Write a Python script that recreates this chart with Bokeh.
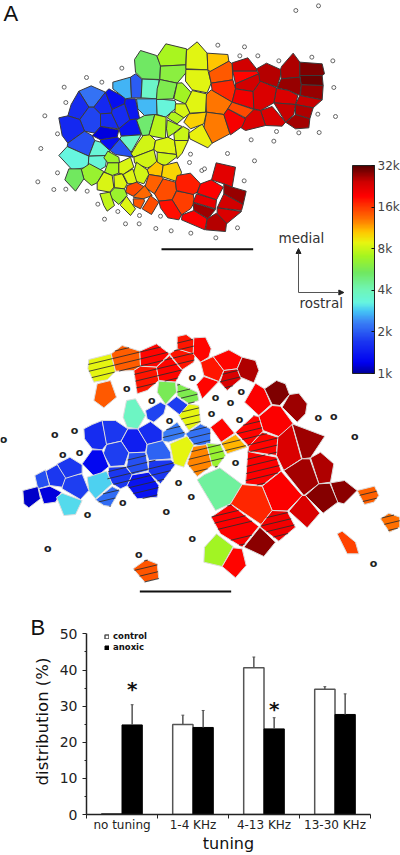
from bokeh.plotting import figure
from bokeh.layouts import column, row
from bokeh.embed import file_html
from bokeh.resources import INLINE
from bokeh.core.properties import value
from bokeh.models import (LogColorMapper, ColorBar, FixedTicker, ColumnDataSource, Arrow, NormalHead,
                          Range1d, Legend, LegendItem)

# ---------- data: upper map (cell tuning in kHz, outline) ----------
upper_a = [(2.2,[(85,152),(122,136),(165,155),(130,200),(115,200)]),
 (1.6,[(85,152),(115,200),(88,237),(52,226),(62,192)]),
 (1.8,[(115,200),(130,200),(150,220),(150,258),(133,278),(102,272),(88,237)]),
 (1.55,[(25,232),(52,226),(88,237),(102,272),(52,308),(35,285)]),
 (1.9,[(52,308),(102,272),(125,285),(133,300),(115,347),(50,318)]),
 (1.55,[(165,155),(185,207),(183,218),(150,220),(130,200)]),
 (1.3,[(175,145),(225,172),(222,190),(185,207),(165,155)]),
 (1.4,[(225,175),(255,175),(268,238),(238,238),(222,190)]),
 (1.6,[(185,207),(222,190),(238,238),(205,265),(183,218)]),
 (1.6,[(150,220),(183,218),(205,265),(150,258)]),
 (1.35,[(238,238),(258,235),(272,283),(212,287),(205,265)]),
 (1.15,[(150,258),(205,268),(200,290),(150,298),(125,285),(133,278)]),
 (1.3,[(150,298),(200,290),(208,295),(178,330),(150,305)]),
 (1.9,[(208,295),(242,335),(248,350),(195,342),(178,330)]),
 (3.7,[(212,287),(272,283),(242,335),(208,295)]),
 (3.4,[(133,300),(150,305),(178,330),(170,345),(115,347)]),
 (3.25,[(25,345),(50,318),(115,347),(113,380),(65,388)]),
 (3.4,[(115,347),(170,345),(165,378),(145,390),(113,380)]),
 (2.7,[(187,125),(240,110),(243,172),(225,175),(187,145)]),
 (2.0,[(240,110),(255,100),(275,117),(272,172),(243,172)]),
 (3.7,[(275,115),(326,118),(318,175),(272,172)]),
 (2.75,[(258,175),(318,175),(320,222),(282,225),(262,205)]),
 (3.35,[(318,175),(373,180),(380,200),(345,230),(320,222)]),
 (5.1,[(282,225),(313,222),(295,285),(275,285),(258,238)]),
 (5.3,[(252,57),(270,30),(318,45),(330,72),(328,117),(275,115),(255,95)]),
 (7.6,[(313,222),(347,230),(345,295),(295,285)])]
upper_b = [(7.2,[(470,168),(496,130),(558,145),(556,193),(480,197)]),
 (6.2,[(480,197),(556,193),(558,215),(530,248),(478,237)]),
 (5.8,[(478,237),(530,248),(518,295),(468,297),(470,265)]),
 (7.0,[(530,248),(545,247),(573,277),(555,310),(520,295)]),
 (7.4,[(512,335),(526,335),(552,350),(530,370),(500,352)]),
 (7.4,[(500,358),(530,372),(545,378),(520,398),(502,410),(498,385)]),
 (8.0,[(548,378),(566,388),(563,420),(522,420),(520,400)]),
 (8.2,[(428,405),(448,403),(465,420),(460,447),(400,470),(392,460),(410,430)]),
 (8.5,[(465,420),(502,410),(522,420),(528,462),(470,455),(460,447)]),
 (8.7,[(522,420),(563,420),(545,458),(530,475),(528,462)]),
 (8.2,[(400,470),(460,447),(470,488),(440,503),(402,487)]),
 (8.1,[(470,455),(528,462),(528,470),(495,495),(470,488)])]
upper_c = [(8.7,[(48,30),(80,4),(110,38),(112,88),(46,85)]),
 (8.7,[(46,87),(112,88),(122,128),(110,157),(65,148),(45,122)]),
 (10.6,[(110,38),(172,42),(175,62),(122,95),(112,88)]),
 (14.3,[(175,62),(185,70),(187,118),(122,128),(115,95)]),
 (17,[(122,128),(187,118),(195,145),(185,185),(125,150)]),
 (24,[(185,67),(232,52),(258,85),(258,92),(187,92)]),
 (19,[(187,92),(258,92),(265,100),(195,130)]),
 (24,[(195,145),(195,130),(265,100),(270,122),(248,153)]),
 (20.5,[(195,145),(248,153),(250,205),(185,185)]),
 (13,[(122,148),(185,185),(172,205),(160,222),(108,215),(105,165)]),
 (12.8,[(108,215),(160,222),(178,280),(125,308),(100,262)]),
 (9,[(55,278),(95,250),(125,308),(112,322),(58,295)]),
 (10.2,[(55,220),(108,215),(100,250),(60,265),(40,245)]),
 (8.7,[(65,150),(108,160),(105,215),(58,218),(45,190)]),
 (8.4,[(15,190),(45,190),(58,218),(40,232),(13,215)]),
 (25.5,[(258,85),(288,68),(330,87),(330,105),(320,140),(268,122),(265,100)]),
 (26,[(333,78),(368,38),(388,65),(388,110),(332,115),(330,87)]),
 (29,[(388,65),(455,70),(462,100),(455,105),(388,105)]),
 (30,[(388,105),(455,105),(458,135),(392,133)]),
 (27.5,[(392,133),(458,135),(455,178),(390,165)]),
 (27.5,[(320,142),(332,115),(388,110),(392,133),(388,165),(355,150)]),
 (23,[(318,143),(355,150),(382,165),(375,192),(310,187)]),
 (23,[(248,153),(270,122),(318,142),(310,187),(270,210),(250,205)]),
 (24.5,[(388,165),(455,178),(428,202),(375,192)]),
 (23,[(270,210),(305,198),(345,245),(335,257),(285,255)]),
 (24.5,[(310,187),(375,192),(370,222),(345,245)]),
 (26,[(375,192),(428,202),(418,235),(375,222)]),
 (26.5,[(375,222),(418,235),(415,262),(375,265),(345,245)]),
 (23,[(222,230),(250,207),(270,210),(285,255),(225,270),(212,262)]),
 (20,[(172,205),(225,235),(215,258),(180,283),(160,222)]),
 (15,[(185,185),(250,207),(225,232),(172,205)])]
upper_d = [(10.6,[(290,118),(318,93),(338,105),(333,138),(295,132)]),
 (10,[(338,105),(380,95),(393,125),(385,155),(333,138)]),
 (14,[(295,132),(333,138),(338,145),(312,190),(283,170)]),
 (14.8,[(338,145),(375,155),(378,180),(365,208),(325,212),(312,190)]),
 (8.2,[(258,95),(290,118),(295,132),(280,160),(255,152),(248,130)]),
 (6.6,[(92,117),(117,100),(160,123),(140,157),(123,165),(100,145)]),
 (5.4,[(55,115),(92,115),(100,145),(75,182),(43,148)]),
 (6.8,[(172,62),(205,80),(207,97),(172,97),(160,82)]),
 (7.2,[(172,97),(205,97),(205,128),(185,135),(162,125)]),
 (8.4,[(205,97),(240,80),(250,110),(218,132),(205,128)]),
 (8.4,[(160,125),(185,135),(190,170),(178,185),(140,178),(140,157)]),
 (8.6,[(190,135),(215,130),(230,160),(222,175),(192,172)]),
 (8.6,[(218,132),(247,115),(260,158),(232,160)]),
 (15,[(230,165),(258,155),(283,170),(248,197),(225,185)]),
 (13.5,[(283,165),(305,195),(278,205),(248,200)]),
 (14.5,[(248,205),(280,205),(282,212),(270,235),(250,225)]),
 (14.8,[(300,195),(325,215),(303,252),(275,235)]),
 (6.7,[(180,185),(192,172),(222,175),(230,195),(205,222),(180,200)]),
 (7.8,[(148,190),(178,185),(192,225),(170,242),(160,225)]),
 (8.5,[(210,222),(228,197),(255,235),(240,255),(210,225)]),
 (15.8,[(378,182),(428,190),(432,215),(420,235),(393,253),(365,208)]),
 (18.5,[(325,212),(365,208),(393,253),(385,268),(352,262),(330,232)]),
 (17.5,[(380,135),(420,128),(450,160),(440,185),(428,192),(378,180),(375,155)]),
 (19.5,[(450,160),(482,148),(518,170),(498,208),(440,188)]),
 (21.5,[(438,190),(498,208),(495,235),(428,215)]),
 (22,[(497,97),(555,110),(545,170),(520,160),(483,148)]),
 (27.5,[(520,160),(545,170),(587,182),(578,222),(520,190)]),
 (24,[(520,190),(578,222),(573,240),(500,232)]),
 (27,[(428,217),(495,237),(472,265),(430,240)]),
 (23,[(500,232),(573,243),(528,280),(500,250)]),
 (19.5,[(395,253),(430,240),(470,265),(463,298),(393,268)]),
 (25.5,[(470,265),(498,248),(528,278),(525,303),(465,298)])]
upper_silent = [(954,16),(886,30),(652,134),(732,139),(718,166),(772,166),(835,181),(934,170),(997,181),
 (364,203),(258,231),(304,245),(191,260),(196,306),(133,346),(171,400),(121,444),(1000,261),(952,341),
 (1005,348),(956,396),(895,397),(828,393),(752,418),(820,422),(570,461),(681,459),(762,481),(567,486),
 (604,510),(612,505),(171,517),(112,544),(160,567),(196,566),(260,572),(731,541),(292,611),(352,633),
 (417,645),(312,656),(480,647),(375,670),(416,670),(466,684),(512,691),(571,698),(711,682),(646,712)]

# ---------- data: lower map (kHz, hatched, outline) ----------
lower_a = [(8.8,1,[(265,117),(332,100),(345,152),(320,178),(280,185),(262,145)]),
 (14.2,1,[(332,100),(365,75),(418,92),(420,137),(400,150),(345,152)]),
 (19,1,[(418,92),(468,70),(507,100),(468,140),(420,137)]),
 (18,1,[(400,150),(420,137),(468,140),(475,180),(440,210),(410,220)]),
 (19,1,[(468,140),(507,105),(545,150),(525,185),(475,180)]),
 (18,1,[(507,100),(530,85),(585,100),(580,125),(545,148)]),
 (18,1,[(530,48),(557,42),(582,60),(578,100),(530,85)]),
 (5.6,0,[(475,182),(525,185),(528,215),(495,252),(470,215)]),
 (5.8,1,[(530,188),(590,215),(595,240),(565,250),(530,225)]),
 (1.75,0,[(498,252),(528,228),(565,255),(540,285)]),
 (1.8,0,[(435,270),(480,245),(497,255),(490,280),(460,305),(440,295)]),
 (8.8,1,[(535,285),(565,250),(595,255),(600,305),(565,330)]),
 (3.8,0,[(378,240),(405,235),(435,285),(412,325),(380,320),(368,290)]),
 (14.3,0,[(290,190),(330,180),(348,230),(310,262),(280,240)]),
 (1.6,0,[(250,325),(275,312),(305,300),(320,370),(305,388),(275,385),(252,355)]),
 (1.7,0,[(305,300),(345,300),(382,325),(362,362),(318,372)]),
 (1.45,0,[(382,325),(412,325),(440,370),(435,395),(385,397),(362,362)]),
 (1.6,0,[(412,325),(450,303),(485,330),(485,362),(440,372)]),
 (1.75,0,[(318,372),(362,362),(385,397),(372,435),(330,438),(308,400)]),
 (1.25,0,[(275,388),(305,388),(325,438),(285,472),(245,430)]),
 (1.9,1,[(385,397),(435,395),(445,450),(395,463),(378,440)]),
 (2.05,0,[(440,372),(487,360),(510,395),(512,415),(445,420),(437,395)]),
 (2.3,1,[(487,335),(530,305),(555,340),(550,350),(505,365),(487,362)]),
 (2.2,1,[(555,340),(600,310),(630,325),(630,370),(605,378),(580,372)]),
 (1.7,1,[(325,440),(375,438),(395,463),(382,495),(360,505),(320,480)]),
 (1.7,1,[(445,420),(512,418),(525,432),(480,490),(443,455)]),
 (1.35,1,[(395,463),(445,455),(475,495),(470,530),(410,535),(380,495)]),
 (2.95,0,[(260,470),(318,452),(335,490),(285,535),(265,510)]),
 (2.15,1,[(335,498),(358,510),(330,558),(310,555),(285,538)]),
 (1.75,0,[(185,470),(245,460),(265,510),(240,537),(185,505)]),
 (1.7,0,[(170,430),(208,410),(245,433),(245,458),(190,475)]),
 (1.7,0,[(135,452),(170,432),(195,472),(185,500),(148,495)]),
 (1.9,0,[(103,465),(135,448),(147,495),(112,505)]),
 (1.15,0,[(115,505),(148,497),(183,515),(165,545),(130,550)]),
 (1.1,0,[(67,510),(112,498),(120,535),(85,562),(70,550)]),
 (3.0,0,[(168,530),(185,518),(245,540),(225,582),(190,585)]),
 (8.8,0,[(508,370),(560,347),(580,375),(565,405),(550,440),(520,430)]),
 (12.5,1,[(560,430),(578,378),(618,372),(635,435),(590,468)]),
 (14.5,1,[(398,745),(437,717),(470,730),(475,775),(433,785)])]
lower_b = [(19,0,[(10,52),(45,50),(62,85),(55,110),(30,125),(8,100)]),
 (6.6,1,[(48,368),(90,372),(105,405),(78,442),(65,435)]),
 (19,0,[(60,320),(95,293),(132,338),(92,365)]),
 (11,1,[(92,367),(135,342),(170,380),(110,400)]),
 (19,0,[(18,192),(40,168),(85,183),(35,235)]),
 (18,0,[(30,125),(68,108),(100,150),(85,183),(40,165)]),
 (19,0,[(68,108),(115,88),(155,110),(140,145),(100,150)]),
 (23,1,[(100,150),(140,145),(152,175),(110,210),(88,185)]),
 (26,0,[(155,110),(195,120),(205,150),(190,187),(150,170),(140,145)]),
 (19.5,0,[(195,188),(222,205),(242,252),(205,285),(162,245)]),
 (29,0,[(222,205),(258,180),(285,190),(297,222),(268,255),(245,252)]),
 (27,0,[(297,222),(325,218),(350,250),(345,280),(320,305),(275,260)]),
 (19.5,0,[(205,288),(245,255),(270,257),(310,312),(265,348),(218,330)]),
 (19,1,[(135,335),(190,285),(205,288),(218,332),(175,378)]),
 (19,1,[(175,378),(215,335),(262,350),(258,405),(172,392)]),
 (23,0,[(262,350),(305,312),(333,415),(280,450),(258,405)]),
 (27,0,[(305,310),(403,347),(360,412),(335,415)]),
 (26,0,[(360,412),(390,395),(430,430),(420,485),(385,490)]),
 (26.5,0,[(280,450),(335,415),(358,415),(385,490),(340,525)]),
 (19.5,1,[(172,393),(258,410),(272,450),(215,495),(165,490)]),
 (4.4,0,[(20,478),(42,462),(88,442),(155,492),(120,550),(75,570)]),
 (28,0,[(420,487),(462,480),(500,510),(460,550),(440,545)]),
 (28.5,0,[(345,525),(385,490),(418,488),(442,545),(398,578)]),
 (23,0,[(295,572),(335,525),(345,525),(388,578),(350,622)]),
 (19.5,0,[(215,497),(272,452),(335,525),(290,572),(245,570)]),
 (17,0,[(120,550),(155,492),(215,497),(245,570),(212,612)]),
 (20.5,1,[(212,612),(245,570),(290,572),(315,620),(265,662),(210,620)]),
 (19.5,1,[(62,590),(120,550),(205,618),(155,680),(90,640)]),
 (28,0,[(160,680),(208,620),(255,665),(220,708)]),
 (7,0,[(78,640),(128,678),(95,738),(40,725),(42,680)]),
 (19,0,[(128,682),(155,685),(167,735),(135,772),(95,738)]),
 (14,1,[(500,510),(552,497),(565,525),(550,545),(522,552)]),
 (13.2,1,[(570,595),(595,578),(628,590),(628,620),(597,635)]),
 (15.5,0,[(440,640),(455,632),(495,665),(505,700),(470,700)])]
lower_silent_a = [(9,357),(163,342),(222,330),(187,401),(237,395),(379,203),(454,241),(507,300),(575,170),
 (534,487),(572,528),(497,572),(575,655),(415,703),(142,685),(367,546),(261,581)]
lower_silent_b = [(75,232),(120,247),(152,214),(63,279),(147,297),(135,425),(383,291),(430,288),(493,347),(549,730)]

freq_ticks = [1, 2, 4, 8, 16, 32]
freq_labels = ["1k", "2k", "4k", "8k", "16k", "32k"]

# ---------- data: bar chart ----------
tunings = ["no tuning", "1-4 KHz", "4-13 KHz", "13-30 KHz"]
control_mean = [0.2, 24.9, 40.6, 34.65]
control_top = [0.2, 27.5, 43.6, 35.4]
anoxic_mean = [24.8, 24.1, 23.7, 27.7]
anoxic_top = [30.4, 28.8, 26.8, 33.4]
star_tuning = [0, 2]
star_level = [34.8, 29.3]

# ---------- colour scale sampled from the colour bar ----------
anchors = [(0,"#00009a"),(.05,"#0000f0"),(.15,"#1a35f0"),(.245,"#3a80f5"),(.30,"#45c5f5"),(.34,"#66f5e0"),
 (.405,"#70f5b5"),(.485,"#70e860"),(.565,"#a5f520"),(.63,"#e8f510"),(.68,"#ffc800"),(.745,"#ff7000"),
 (.81,"#ff3000"),(.855,"#ff0000"),(.92,"#d00000"),(1,"#550000")]
def _c(h): return [int(h[i:i+2],16) for i in (1,3,5)]
palette=[]
for i in range(256):
    t=i/255
    for (a,ca),(b,cb) in zip(anchors,anchors[1:]):
        if a<=t<=b:
            f=(t-a)/(b-a); A,B=_c(ca),_c(cb)
            palette.append("#%02x%02x%02x"%tuple(round(A[k]+(B[k]-A[k])*f) for k in range(3)))
            break
mapper = LogColorMapper(palette=palette, low=1, high=32)

def shift(cells, dx, dy):
    return [(*c[:-1], [(x+dx,y+dy) for x,y in c[-1]]) for c in cells]

upper = shift(upper_a,150,120)+upper_b+shift(upper_c,510,120)+shift(upper_d,150,390)
lower = shift(lower_a,0,960)+shift(lower_b,570,960)

MAP_H=640
m = figure(width=400, height=MAP_H, x_range=Range1d(0,1200), y_range=Range1d(MAP_H*3,0),
           toolbar_location=None, output_backend="svg", min_border=0, outline_line_color=None, margin=0)
m.axis.visible=False; m.grid.visible=False

su = ColumnDataSource(dict(xs=[[q[0] for q in c[1]] for c in upper], ys=[[q[1] for q in c[1]] for c in upper], v=[c[0] for c in upper]))
m.patches("xs","ys",source=su,fill_color={"field":"v","transform":mapper},line_color="#3a3a3a",line_width=1)
sl = ColumnDataSource(dict(xs=[[q[0] for q in c[2]] for c in lower], ys=[[q[1] for q in c[2]] for c in lower], v=[c[0] for c in lower]))
m.patches("xs","ys",source=sl,fill_color={"field":"v","transform":mapper},line_color="#dddddd",line_width=1)

# hatching: tilted rules clipped to each hatched cell
SLOPE=-0.24; STEP=21
hx0,hy0,hx1,hy1=[],[],[],[]
for c in lower:
    if not c[1]: continue
    P=c[2]
    vals=[y-SLOPE*x for x,y in P]
    k=int(min(vals)//STEP)+1
    while k*STEP<max(vals):
        ci=k*STEP; hits=[]
        for (x0,y0),(x1,y1),v0,v1 in zip(P,P[1:]+P[:1],vals,vals[1:]+vals[:1]):
            if (v0-ci)*(v1-ci)<0:
                f=(ci-v0)/(v1-v0); hits.append((x0+(x1-x0)*f,y0+(y1-y0)*f))
        if len(hits)>=2:
            hits.sort()
            hx0.append(hits[0][0]);hy0.append(hits[0][1]);hx1.append(hits[-1][0]);hy1.append(hits[-1][1])
        k+=1
m.segment(hx0,hy0,hx1,hy1,line_color="#2b2b2b",line_width=1,line_alpha=.85)

# silent sites
m.scatter([p[0] for p in upper_silent],[p[1] for p in upper_silent],marker="circle",size=4,
          fill_color="white",line_color="#666666",line_width=1)
sil=[(x,y+960) for x,y in lower_silent_a]+[(x+570,y+960) for x,y in lower_silent_b]
m.text([p[0] for p in sil],[p[1] for p in sil],text=["o"]*len(sil),text_font=value("DejaVu Sans"),
       text_font_size="11px",text_align="center",text_baseline="middle",text_color="#222222",text_font_style="bold")

# scale bars
m.segment([483,418],[746,1773],[758,692],[746,1773],line_color="#111111",line_width=2)

# orientation arrows
for xa,ya,xb,yb in [(894,876,894,744),(894,876,1030,876)]:
    m.add_layout(Arrow(end=NormalHead(size=5,fill_color="#222222",line_color="#222222"),x_start=xa,y_start=ya,x_end=xb,y_end=yb,
                       line_color="#555555",line_width=1))
m.text([834],[712],text=["medial"],text_font=value("DejaVu Sans"),text_font_size="13.5px",text_color="#333333",text_baseline="middle")
m.text([897],[907],text=["rostral"],text_font=value("DejaVu Sans"),text_font_size="13.5px",text_color="#333333",text_baseline="middle")
m.text([9],[40],text=["A"],text_font=value("Liberation Sans"),text_font_size="22px",text_color="#111111",text_baseline="middle")
m.text([90],[1882],text=["B"],text_font=value("Liberation Sans"),text_font_size="22px",text_color="#111111",text_baseline="middle")

cb = ColorBar(color_mapper=mapper, location=(352,MAP_H-373), width=22, height=208, padding=0, margin=0,
              ticker=FixedTicker(ticks=freq_ticks), major_label_overrides=dict(zip(freq_ticks,freq_labels)),
              major_label_text_font="DejaVu Sans", major_label_text_font_size="12px", major_label_text_color="#444444",
              major_tick_in=3, major_tick_line_color="#111111", minor_tick_line_color=None,
              bar_line_color="#222222", border_line_color=None, background_fill_color=None, label_standoff=3)
m.add_layout(cb,"center")

# ---------- bars ----------
b = figure(width=400, height=255, x_range=Range1d(0,4), y_range=Range1d(0,51.5), toolbar_location=None,
           output_backend="svg", min_border_left=86, min_border_right=30, min_border_top=28, min_border_bottom=41,
           outline_line_color=None, margin=0, border_fill_color=None, background_fill_color=None)
b.grid.visible=False
xs=[i+.5 for i in range(4)]; W=.286
bx_c=[x-W/2 for x in xs]; bx_a=[x+W/2 for x in xs]
r_c=b.vbar(bx_c,top=control_mean,width=W,fill_color="white",line_color="#555555",line_width=1.5)
r_a=b.vbar(bx_a,top=anoxic_mean,width=W,fill_color="black",line_color="black")
ctr=[x for x,t in zip(bx_c,tunings) if t!="no tuning"]
cb0=control_mean[1:];ct0=control_top[1:]
b.segment(ctr,cb0,ctr,ct0,line_color="#555555",line_width=1.5)
b.segment(bx_a,anoxic_mean,bx_a,anoxic_top,line_color="#555555",line_width=1.5)
b.segment([x-.02 for x in ctr],ct0,[x+.02 for x in ctr],ct0,line_color="#555555",line_width=1)
b.segment([x-.02 for x in bx_a],anoxic_top,[x+.02 for x in bx_a],anoxic_top,line_color="#555555",line_width=1)
b.text([xs[i]+W/2 for i in star_tuning],star_level,text=["*"]*len(star_tuning),
       text_font=value("DejaVu Sans"),text_font_size="20px",text_font_style="bold",text_align="center",text_baseline="middle",text_color="#111111")

b.xaxis.ticker=FixedTicker(ticks=xs,minor_ticks=[0,1,2,3,4])
b.xaxis.major_label_overrides=dict(zip(xs,tunings))
b.xaxis.major_tick_line_color=None; b.xaxis.major_tick_out=0; b.xaxis.major_tick_in=0
b.xaxis.minor_tick_in=0; b.xaxis.minor_tick_out=4
b.xaxis.major_label_text_font="DejaVu Sans"; b.xaxis.major_label_text_font_size="12px"
b.xaxis.major_label_text_color="#222222"; b.xaxis.major_label_standoff=-1
b.xaxis.axis_label="tuning"; b.xaxis.axis_label_text_font="DejaVu Sans"; b.xaxis.axis_label_text_font_size="16px"
b.xaxis.axis_label_text_font_style="normal"; b.xaxis.axis_label_standoff=-1; b.xaxis.axis_label_text_color="#111111"
b.yaxis.ticker=FixedTicker(ticks=[0,10,20,30,40,50],minor_ticks=[5,15,25,35,45])
b.yaxis.bounds=(0,50)
b.yaxis.major_tick_in=0; b.yaxis.major_tick_out=4; b.yaxis.minor_tick_in=0; b.yaxis.minor_tick_out=2
b.yaxis.major_label_text_font="DejaVu Sans"; b.yaxis.major_label_text_font_size="14px"
b.yaxis.major_label_text_color="#222222"; b.yaxis.major_label_standoff=5
b.yaxis.axis_label="distribution (%)"; b.yaxis.axis_label_text_font="DejaVu Sans"; b.yaxis.axis_label_text_font_size="16.5px"
b.yaxis.axis_label_text_font_style="normal"; b.yaxis.axis_label_standoff=5; b.yaxis.axis_label_text_color="#111111"
for ax in (b.xaxis,b.yaxis):
    ax.axis_line_color="#222222"; ax.axis_line_width=1.5; ax.minor_tick_line_color="#222222"
b.yaxis.major_tick_line_color="#222222"

leg=Legend(items=[LegendItem(label="control",renderers=[r_c]),LegendItem(label="anoxic",renderers=[r_a])],
           location=(18,162),glyph_width=5,glyph_height=5,label_text_font="DejaVu Sans",label_text_font_size="8.5px",
           label_text_font_style="bold",label_standoff=4,padding=0,margin=0,spacing=1,label_height=8,
           background_fill_alpha=0,border_line_color=None,label_text_color="#111111",orientation="vertical")
b.add_layout(leg,"center")

root=column(row(m,margin=0),row(b,margin=(-40,0,0,0)),spacing=0,margin=0)
open("out.html","w").write(file_html(root,INLINE))
